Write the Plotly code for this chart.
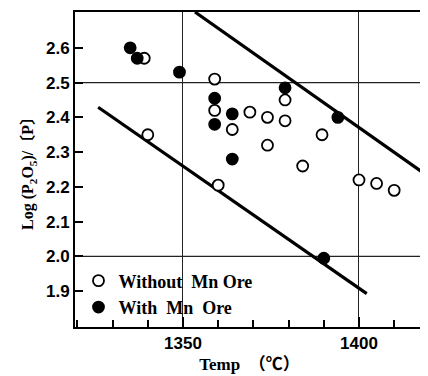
import plotly.graph_objects as go

# Without Mn Ore (open circles)
temp_without = [1339, 1340, 1359, 1359, 1360, 1364, 1369, 1374, 1374, 1379, 1379, 1384, 1389.5, 1400, 1405, 1410]
logp_without = [2.57, 2.35, 2.51, 2.42, 2.205, 2.365, 2.415, 2.40, 2.32, 2.45, 2.39, 2.26, 2.35, 2.22, 2.21, 2.19]

# With Mn Ore (filled circles)
temp_with = [1335, 1337, 1349, 1359, 1359, 1364, 1364, 1379, 1394, 1390]
logp_with = [2.60, 2.57, 2.53, 2.455, 2.38, 2.41, 2.28, 2.485, 2.40, 1.995]

# Envelope lines (end points)
upper_x = [1353.4, 1418.2]
upper_y = [2.703, 2.241]
lower_x = [1325.9, 1402.2]
lower_y = [2.429, 1.893]

y_ticks = [1.9, 2.0, 2.1, 2.2, 2.3, 2.4, 2.5, 2.6]
y_grid = [2.0, 2.5]

serif = "Liberation Serif, Times New Roman, Noto Sans CJK JP, serif"
sans = "Liberation Sans Narrow, Liberation Sans, Arial, sans-serif"

fig = go.Figure()
for lx, ly in [(upper_x, upper_y), (lower_x, lower_y)]:
    fig.add_trace(go.Scatter(x=lx, y=ly, mode="lines", line=dict(color="black", width=3.2),
                             showlegend=False, hoverinfo="skip"))

fig.add_trace(go.Scatter(x=temp_without, y=logp_without, mode="markers",
                         name="Without\u00a0\u00a0Mn\u00a0Ore", legendgroup="a",
                         marker=dict(symbol="circle", size=11, color="white",
                                     line=dict(color="black", width=1.8))))
fig.add_trace(go.Scatter(x=temp_with, y=logp_with, mode="markers",
                         name="With\u00a0\u00a0Mn\u00a0\u00a0Ore", legendgroup="b",
                         marker=dict(symbol="circle", size=11, color="black",
                                     line=dict(color="black", width=1.8))))

for g in y_grid:
    fig.add_hline(y=g, line=dict(color="#222", width=1.2), layer="below")

# page body has an 8px margin, so the figure is 8px smaller and offsets shifted
fig.update_layout(
    width=420, height=368,
    margin=dict(l=67, r=4, t=2, b=49),
    paper_bgcolor="white", plot_bgcolor="white",
    font=dict(family=serif, color="black"),
    showlegend=True,
    legend=dict(x=0.01, y=0.005, xanchor="left", yanchor="bottom",
                bgcolor="rgba(0,0,0,0)", tracegroupgap=0,
                font=dict(family=serif, size=18, weight="bold"),
                itemwidth=30),
    xaxis=dict(range=[1319.32, 1418.47], tick0=1350, dtick=50,
               ticks="inside", ticklen=10, tickwidth=1.8, tickcolor="black",
               minor=dict(dtick=10, tick0=1350, ticks="inside", ticklen=7, tickwidth=1.8,
                          tickcolor="black", showgrid=False),
               showgrid=True, gridcolor="#222", gridwidth=1.2,
               showline=True, linecolor="black", linewidth=2, mirror=True,
               zeroline=False,
               tickfont=dict(family=sans, size=17, color="black", weight="bold"),
               title=dict(text="Temp\u3000\uff08\u2103\uff09", standoff=6,
                          font=dict(family=serif, size=17, weight="bold"))),
    yaxis=dict(range=[1.797, 2.703], tickvals=y_ticks, ticktext=[f"{v:.1f}" for v in y_ticks],
               ticks="inside", ticklen=8, tickwidth=1.8, tickcolor="black",
               showgrid=False, showline=True, linecolor="black", linewidth=2,
               zeroline=False,
               tickfont=dict(family=sans, size=17, color="black", weight="bold"),
               title=dict(text="Log (P<sub>2</sub>O<sub>5</sub>)/\u3014P\u3015\u00a0\u00a0\u00a0\u00a0", standoff=8,
                          font=dict(family=serif, size=16, weight="bold"))),
)

fig.write_html("out.html")
